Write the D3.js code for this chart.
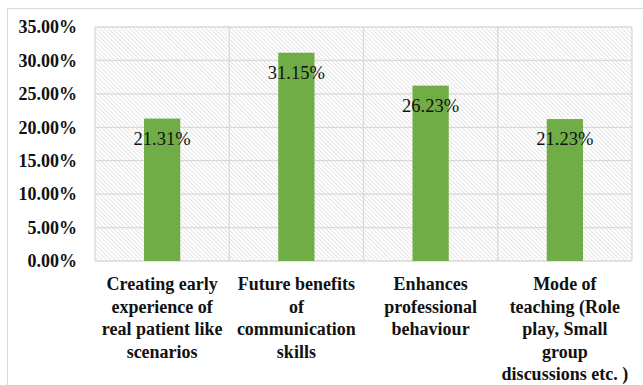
<!DOCTYPE html>
<meta charset="utf-8">
<style>
body { margin: 0; background: #fff; }
</style>
<svg width="643" height="385"></svg>
<script src="https://d3js.org/d3.v7.min.js"></script>
<script>
var categories = ["Creating early experience of real patient like scenarios",
                  "Future benefits of communication skills",
                  "Enhances professional behaviour",
                  "Mode of teaching (Role play, Small group discussions etc. )"];
var catLines = [["Creating early", "experience of", "real patient like", "scenarios"],
                ["Future benefits", "of", "communication", "skills"],
                ["Enhances", "professional", "behaviour"],
                ["Mode of", "teaching (Role", "play, Small", "group", "discussions etc. )"]];
var values = [21.31, 31.15, 26.23, 21.23];
var yTicks = [0, 5, 10, 15, 20, 25, 30, 35];

var FONT = "'Liberation Serif'";
var svg = d3.select("svg");
var margin = {left: 95, top: 27, right: 11, bottom: 124};
var width = 643 - margin.left - margin.right,
    height = 385 - margin.top - margin.bottom;

// outer chart border (only top/left visible)
svg.append("rect").attr("x", 7.5).attr("y", 8.5).attr("width", 660).attr("height", 400)
  .attr("fill", "none").attr("stroke", "#d9d9d9");

var defs = svg.append("defs");
var pat = defs.append("pattern").attr("id", "hatch").attr("patternUnits", "userSpaceOnUse")
  .attr("width", 3).attr("height", 3).attr("patternTransform", "rotate(45)");
pat.append("rect").attr("width", 3).attr("height", 3).attr("fill", "#fff");
pat.append("line").attr("x1", 0).attr("y1", 0.5).attr("x2", 3).attr("y2", 0.5)
  .attr("stroke", "#e4e4e4").attr("stroke-width", 1);

var g = svg.append("g").attr("transform", "translate(" + margin.left + "," + margin.top + ")");

var x = d3.scaleBand().domain(categories).range([0, width]).padding(0);
var y = d3.scaleLinear().domain([0, 35]).range([height, 0]);

g.append("rect").attr("width", width).attr("height", height).attr("fill", "url(#hatch)");

// grid
g.selectAll(".hgrid").data(yTicks).enter().append("line")
  .attr("x1", 0).attr("x2", width)
  .attr("y1", function(d) { return y(d); }).attr("y2", function(d) { return y(d); })
  .attr("stroke", "#d9d9d9").attr("stroke-width", 1.3);
var vg = categories.map(function(c) { return x(c); }).concat([width]);
g.selectAll(".vgrid").data(vg).enter().append("line")
  .attr("x1", function(d) { return d; }).attr("x2", function(d) { return d; })
  .attr("y1", 0).attr("y2", height)
  .attr("stroke", "#d9d9d9").attr("stroke-width", 1.3);

var barW = x.bandwidth() * 0.27;
g.selectAll(".bar").data(values).enter().append("rect")
  .attr("x", function(d, i) { return x(categories[i]) + x.bandwidth() / 2 - barW / 2; })
  .attr("y", function(d) { return y(d); })
  .attr("width", barW)
  .attr("height", function(d) { return height - y(d); })
  .attr("fill", "#70ad47");

g.selectAll(".vlab").data(values).enter().append("text")
  .attr("x", function(d, i) { return x(categories[i]) + x.bandwidth() / 2; })
  .attr("y", function(d) { return y(d) + 26; })
  .attr("text-anchor", "middle")
  .style("font-family", FONT).style("font-size", "18.5px")
  .attr("fill", "#111")
  .text(function(d) { return d.toFixed(2) + "%"; });

// y axis labels
var yAxis = d3.axisLeft(y).tickValues(yTicks).tickSize(0).tickPadding(18)
  .tickFormat(function(d) { return d.toFixed(2) + "%"; });
var ya = g.append("g").call(yAxis);
ya.select(".domain").remove();
ya.selectAll("text").style("font-family", FONT).style("font-size", "18px")
  .style("font-weight", "bold").attr("fill", "#111");

// x category labels
var xa = g.append("g").attr("transform", "translate(0," + height + ")");
categories.forEach(function(c, i) {
  var t = xa.append("text").attr("text-anchor", "middle")
    .style("font-family", FONT).style("font-size", "18px").style("font-weight", "bold")
    .attr("fill", "#111")
    .attr("x", x(c) + x.bandwidth() / 2).attr("y", 29);
  catLines[i].forEach(function(l, j) {
    t.append("tspan").attr("x", x(c) + x.bandwidth() / 2).attr("dy", j ? 22.5 : 0).text(l);
  });
});
</script>
